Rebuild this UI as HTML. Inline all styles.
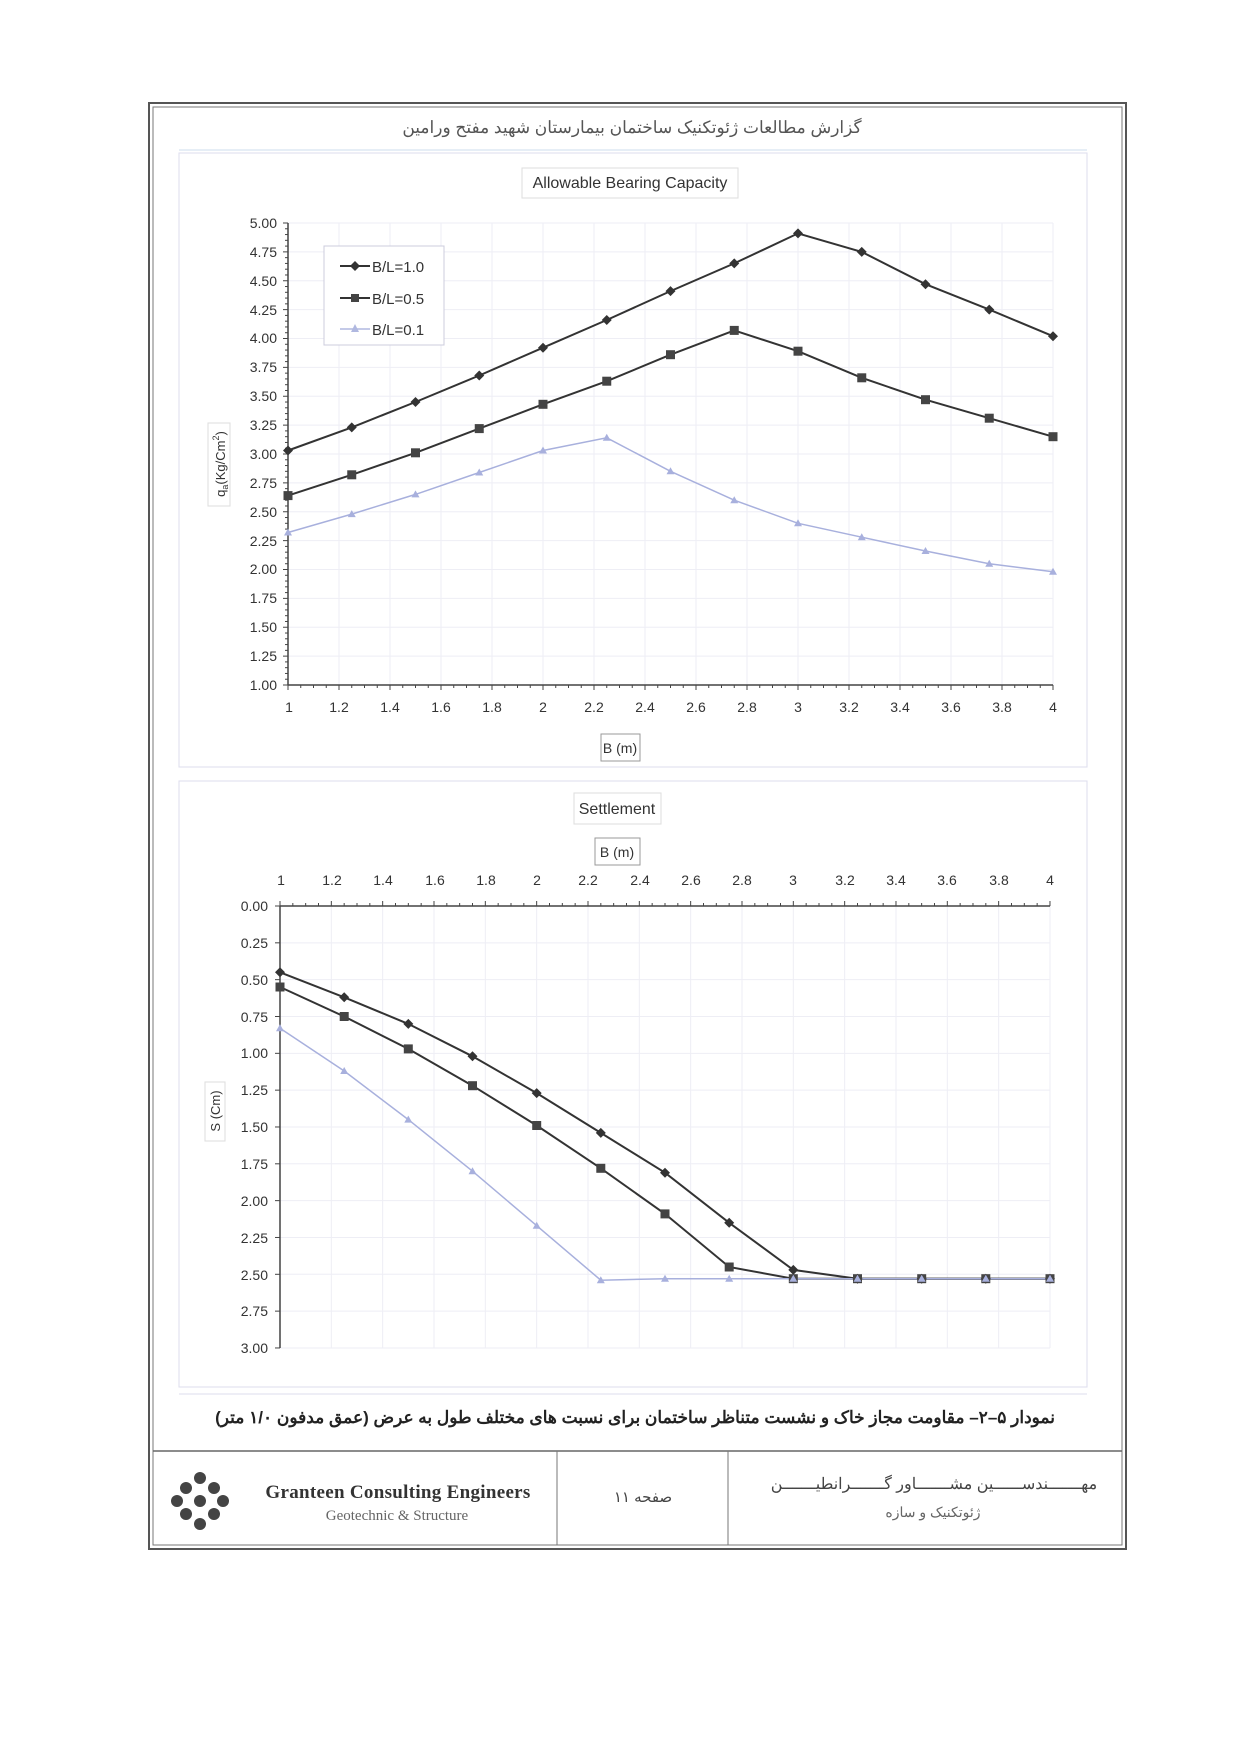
<!DOCTYPE html>
<html><head><meta charset="utf-8">
<style>
html,body{margin:0;padding:0;background:#fff;}
body{width:1240px;height:1753px;position:relative;overflow:hidden;font-family:"Liberation Sans",sans-serif;}
svg{position:absolute;left:0;top:0;}
</style></head>
<body>
<svg id="s" width="1240" height="1753" viewBox="0 0 1240 1753" xmlns="http://www.w3.org/2000/svg" font-family="Liberation Sans, DejaVu Sans, sans-serif">
<rect x="149" y="103" width="977" height="1446" fill="none" stroke="#555" stroke-width="2"/>
<rect x="153" y="107" width="969" height="1438" fill="none" stroke="#777" stroke-width="1"/>
<text x="632" y="133" font-size="17" fill="#555" text-anchor="middle" font-family="Liberation Sans, Noto Sans CJK SC, sans-serif" direction="rtl">گزارش مطالعات ژئوتکنیک ساختمان بیمارستان شهید مفتح ورامین</text>
<line x1="179" y1="150" x2="1087" y2="150" stroke="#cde" stroke-width="1"/>
<rect x="179" y="153" width="908" height="614" fill="none" stroke="#dde" stroke-width="1"/>
<rect x="522" y="168" width="216" height="30" fill="none" stroke="#ddd"/>
<text x="630" y="188" font-size="16" fill="#333" text-anchor="middle">Allowable Bearing Capacity</text>
<g id="g1" stroke="#eeeef5" stroke-width="1"></g>
<line x1="288" y1="223" x2="288" y2="685" stroke="#444" stroke-width="1.5"/>
<line x1="288" y1="685" x2="1053" y2="685" stroke="#444" stroke-width="1.5"/>
<g id="t1" stroke="#444" stroke-width="1"></g>
<g font-size="14" fill="#333" text-anchor="end">
<text x="277" y="228">5.00</text><text x="277" y="257">4.75</text><text x="277" y="286">4.50</text><text x="277" y="315">4.25</text><text x="277" y="343">4.00</text><text x="277" y="372">3.75</text><text x="277" y="401">3.50</text><text x="277" y="430">3.25</text><text x="277" y="459">3.00</text><text x="277" y="488">2.75</text><text x="277" y="517">2.50</text><text x="277" y="546">2.25</text><text x="277" y="574">2.00</text><text x="277" y="603">1.75</text><text x="277" y="632">1.50</text><text x="277" y="661">1.25</text><text x="277" y="690">1.00</text>
</g>
<g font-size="14" fill="#333" text-anchor="middle">
<text x="289" y="712">1</text><text x="339" y="712">1.2</text><text x="390" y="712">1.4</text><text x="441" y="712">1.6</text><text x="492" y="712">1.8</text><text x="543" y="712">2</text><text x="594" y="712">2.2</text><text x="645" y="712">2.4</text><text x="696" y="712">2.6</text><text x="747" y="712">2.8</text><text x="798" y="712">3</text><text x="849" y="712">3.2</text><text x="900" y="712">3.4</text><text x="951" y="712">3.6</text><text x="1002" y="712">3.8</text><text x="1053" y="712">4</text>
</g>
<rect x="601" y="734" width="39" height="27" fill="none" stroke="#999"/>
<text x="620" y="753" font-size="14" fill="#333" text-anchor="middle">B (m)</text>
<rect x="208" y="423" width="22" height="83" fill="none" stroke="#ddd"/>
<text transform="translate(225,464) rotate(-90)" font-size="13" fill="#333" text-anchor="middle">q<tspan font-size="9" dy="3">a</tspan><tspan dy="-3">(Kg/Cm</tspan><tspan font-size="9" dy="-6">2</tspan><tspan dy="6">)</tspan></text>
<polyline fill="none" stroke="#333" stroke-width="2" points="288,450.5 351.75,427.4 415.5,402 479.25,375.5 543,347.7 606.75,320 670.5,291.1 734.25,263.4 798,233.4 861.75,251.9 925.5,284.2 989.25,309.6 1053,336.2"/>
<polyline fill="none" stroke="#333" stroke-width="2" points="288,495.6 351.75,474.8 415.5,452.8 479.25,428.6 543,404.3 606.75,381.2 670.5,354.7 734.25,330.4 798,351.2 861.75,377.8 925.5,399.7 989.25,418.2 1053,436.7"/>
<polyline fill="none" stroke="#a8b0dd" stroke-width="1.5" points="288,532.5 351.75,514.1 415.5,494.4 479.25,472.5 543,450.5 606.75,437.8 670.5,471.3 734.25,500.2 798,523.3 861.75,537.2 925.5,551 989.25,563.7 1053,571.8"/>
<g id="m1"></g>
<rect x="324" y="246" width="120" height="99" fill="#fff" stroke="#ccd"/>
<line x1="340" y1="266" x2="370" y2="266" stroke="#333" stroke-width="2"/><path d="M355 261 L360 266 L355 271 L350 266Z" fill="#333"/>
<text x="372" y="272" font-size="15" fill="#333">B/L=1.0</text>
<line x1="340" y1="298" x2="370" y2="298" stroke="#333" stroke-width="2"/><rect x="351" y="294" width="8" height="8" fill="#444"/>
<text x="372" y="304" font-size="15" fill="#333">B/L=0.5</text>
<line x1="340" y1="329" x2="370" y2="329" stroke="#b0b8e0" stroke-width="1.5"/><path d="M355 324 L359 332 L351 332Z" fill="#b0b8e0"/>
<text x="372" y="335" font-size="15" fill="#333">B/L=0.1</text>

<rect x="179" y="781" width="908" height="606" fill="none" stroke="#dde" stroke-width="1"/>
<rect x="574" y="793" width="87" height="31" fill="none" stroke="#ddd"/>
<text x="617" y="814" font-size="16" fill="#333" text-anchor="middle">Settlement</text>
<rect x="595" y="838" width="45" height="27" fill="none" stroke="#999"/>
<text x="617" y="857" font-size="14" fill="#333" text-anchor="middle">B (m)</text>
<g font-size="14" fill="#333" text-anchor="middle">
<text x="281" y="885">1</text><text x="332" y="885">1.2</text><text x="383" y="885">1.4</text><text x="435" y="885">1.6</text><text x="486" y="885">1.8</text><text x="537" y="885">2</text><text x="588" y="885">2.2</text><text x="640" y="885">2.4</text><text x="691" y="885">2.6</text><text x="742" y="885">2.8</text><text x="793" y="885">3</text><text x="845" y="885">3.2</text><text x="896" y="885">3.4</text><text x="947" y="885">3.6</text><text x="999" y="885">3.8</text><text x="1050" y="885">4</text>
</g>
<g id="g2" stroke="#eeeef5" stroke-width="1"></g>
<line x1="280" y1="906" x2="280" y2="1348" stroke="#444" stroke-width="1.5"/>
<line x1="280" y1="906" x2="1050" y2="906" stroke="#444" stroke-width="1.5"/>
<g id="t2" stroke="#444" stroke-width="1"></g>
<g font-size="14" fill="#333" text-anchor="end">
<text x="268" y="911">0.00</text><text x="268" y="948">0.25</text><text x="268" y="985">0.50</text><text x="268" y="1022">0.75</text><text x="268" y="1058">1.00</text><text x="268" y="1095">1.25</text><text x="268" y="1132">1.50</text><text x="268" y="1169">1.75</text><text x="268" y="1206">2.00</text><text x="268" y="1243">2.25</text><text x="268" y="1280">2.50</text><text x="268" y="1316">2.75</text><text x="268" y="1353">3.00</text>
</g>
<rect x="205" y="1082" width="20" height="59" fill="none" stroke="#ddd"/>
<text transform="translate(220,1111) rotate(-90)" font-size="13" fill="#333" text-anchor="middle">S (Cm)</text>
<polyline fill="none" stroke="#333" stroke-width="2" points="280,972.3 344.2,997.3 408.3,1023.9 472.5,1056.3 536.7,1093.1 600.8,1132.9 665,1172.7 729.2,1222.8 793.3,1269.9 857.5,1278.7 921.7,1278.7 985.8,1278.7 1050,1278.7"/>
<polyline fill="none" stroke="#333" stroke-width="2" points="280,987 344.2,1016.5 408.3,1048.9 472.5,1085.7 536.7,1125.5 600.8,1168.3 665,1213.9 729.2,1267 793.3,1278.7 857.5,1278.7 921.7,1278.7 985.8,1278.7 1050,1278.7"/>
<polyline fill="none" stroke="#a8b0dd" stroke-width="1.5" points="280,1028.3 344.2,1071 408.3,1119.6 472.5,1171.2 536.7,1225.7 600.8,1280.2 665,1278.7 729.2,1278.7 793.3,1278.7 857.5,1278.7 921.7,1278.7 985.8,1278.7 1050,1278.7"/>
<g id="m2"></g>

<line x1="179" y1="1394" x2="1087" y2="1394" stroke="#dde"/>
<text x="1055" y="1423" font-size="17" font-weight="bold" fill="#222" text-anchor="start" direction="rtl" font-family="Liberation Sans, Noto Sans CJK SC, sans-serif">نمودار ۵–۲– مقاومت مجاز خاک و نشست متناظر ساختمان برای نسبت های مختلف طول به عرض (عمق مدفون ۱/۰ متر)</text>
<line x1="153" y1="1451" x2="1122" y2="1451" stroke="#666" stroke-width="1.5"/>
<line x1="557" y1="1451" x2="557" y2="1545" stroke="#777"/>
<line x1="728" y1="1451" x2="728" y2="1545" stroke="#777"/>
<g fill="#444">
<circle cx="200" cy="1478" r="6"/><circle cx="186" cy="1488" r="6"/><circle cx="214" cy="1488" r="6"/><circle cx="177" cy="1501" r="6"/><circle cx="200" cy="1501" r="6"/><circle cx="223" cy="1501" r="6"/><circle cx="186" cy="1514" r="6"/><circle cx="214" cy="1514" r="6"/><circle cx="200" cy="1524" r="6"/>
</g>
<text x="398" y="1498" font-size="19" font-weight="bold" fill="#333" text-anchor="middle" font-family="Liberation Serif, serif" letter-spacing="0.3">Granteen Consulting Engineers</text>
<text x="397" y="1520" font-size="15" fill="#666" text-anchor="middle" font-family="Liberation Serif, serif">Geotechnic &amp; Structure</text>
<text x="643" y="1502" font-size="15" fill="#444" text-anchor="middle" font-family="Liberation Sans, Noto Sans CJK SC, sans-serif">صفحه ۱۱</text>
<text x="934" y="1489" font-size="16" fill="#444" text-anchor="middle" font-family="Liberation Sans, Noto Sans CJK SC, sans-serif" letter-spacing="1">مهـــــــندســــــین مشـــــــاور گـــــــرانطیـــــــن</text>
<text x="933" y="1517" font-size="14" fill="#666" text-anchor="middle" font-family="Liberation Sans, Noto Sans CJK SC, sans-serif">ژئوتکنیک و سازه</text>
</svg>
<script>
var NS="http://www.w3.org/2000/svg";
function el(p,t,a){var e=document.createElementNS(NS,t);for(var k in a)e.setAttribute(k,a[k]);document.getElementById(p).appendChild(e);return e;}
for(var i=0;i<=16;i++){var y=223+i*28.875;el('t1','line',{x1:283,y1:y,x2:288,y2:y});if(i<16)el('g1','line',{x1:288,y1:y,x2:1053,y2:y});
 for(var j=1;j<5&&i<16;j++){var yy=y+j*5.775;el('t1','line',{x1:285,y1:yy,x2:288,y2:yy});}}
for(var i=0;i<=60;i++){var x=288+i*12.75;el('t1','line',{x1:x,y1:685,x2:x,y2:(i%4==0?690:688)});if(i%4==0&&i>0)el('g1','line',{x1:x,y1:223,x2:x,y2:685});}
for(var i=0;i<=12;i++){var y=906+i*36.83;el('t2','line',{x1:275,y1:y,x2:280,y2:y});if(i>0)el('g2','line',{x1:280,y1:y,x2:1050,y2:y});}
for(var i=0;i<=60;i++){var x=280+i*12.833;el('t2','line',{x1:x,y1:906,x2:x,y2:(i%4==0?901:903)});if(i%4==0&&i>0)el('g2','line',{x1:x,y1:906,x2:x,y2:1348});}
function marks(g,pts,type){pts.split(' ').forEach(function(p){var a=p.split(',').map(Number);
 if(type==0)el(g,'path',{d:'M'+a[0]+' '+(a[1]-5)+' L'+(a[0]+5)+' '+a[1]+' L'+a[0]+' '+(a[1]+5)+' L'+(a[0]-5)+' '+a[1]+'Z',fill:'#333'});
 else if(type==1)el(g,'rect',{x:a[0]-4.5,y:a[1]-4.5,width:9,height:9,fill:'#444'});
 else el(g,'path',{d:'M'+a[0]+' '+(a[1]-4)+' L'+(a[0]+4)+' '+(a[1]+3)+' L'+(a[0]-4)+' '+(a[1]+3)+'Z',fill:'#a8b0dd'});});}
var pl=document.querySelectorAll('polyline');
marks('m1',pl[0].getAttribute('points'),0);marks('m1',pl[1].getAttribute('points'),1);marks('m1',pl[2].getAttribute('points'),2);
marks('m2',pl[3].getAttribute('points'),0);marks('m2',pl[4].getAttribute('points'),1);marks('m2',pl[5].getAttribute('points'),2);
</script>
</body></html>
